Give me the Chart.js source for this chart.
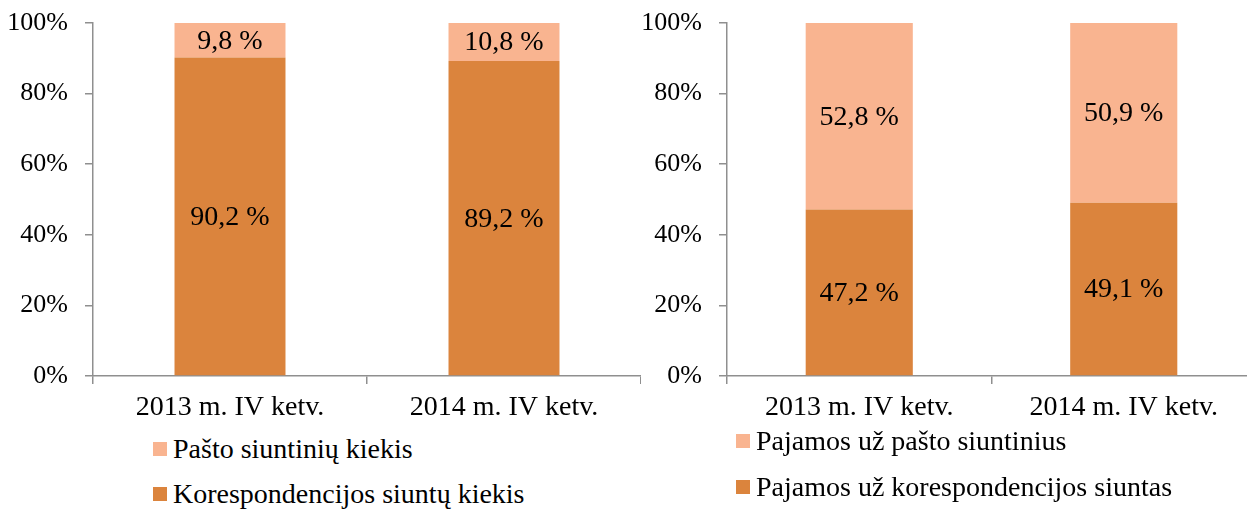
<!DOCTYPE html>
<html lang="lt">
<head>
<meta charset="utf-8">
<title>Pašto siuntos</title>
<script src="https://cdn.jsdelivr.net/npm/chart.js@4"></script>
<style>
  html, body { margin: 0; padding: 0; background: #fff; overflow: hidden; }
  body { width: 1247px; height: 509px; position: relative; }
  canvas { position: absolute; top: 0; }
  #leftChart  { left: 0; }
  #rightChart { left: 634px; }
  .legend { position: absolute; font-family: 'Liberation Serif', 'Times New Roman', serif; font-size: 28px; color: #000; }
  .legend__item { position: absolute; white-space: nowrap; height: 32px; line-height: 32px; }
  .legend__swatch { position: absolute; left: 0; top: 9px; width: 14px; height: 14px; }
  .legend__text { position: absolute; }
</style>
</head>
<body>
<canvas id="leftChart" width="641" height="430"></canvas>
<canvas id="rightChart" width="622" height="430"></canvas>
<div class="legend" id="leftLegend"></div>
<div class="legend" id="rightLegend"></div>

<script>
/* ------------------------------------------------------------------
   DATA
   ------------------------------------------------------------------ */
var categories = ['2013 m. IV ketv.', '2014 m. IV ketv.'];
var yTicks     = [0, 20, 40, 60, 80, 100];

// left chart — quantities
var kiekisLabels          = ['Korespondencijos siuntų kiekis', 'Pašto siuntinių kiekis'];
var korespondencijaKiekis = [90.2, 89.2];
var siuntiniaiKiekis      = [9.8, 10.8];

// right chart — revenue
var pajamosLabels          = ['Pajamos už korespondencijos siuntas', 'Pajamos už pašto siuntinius'];
var pajamosKorespondencija = [47.2, 49.1];
var pajamosSiuntiniai      = [52.8, 50.9];

/* ------------------------------------------------------------------
   STYLE
   ------------------------------------------------------------------ */
var COLORS = {
  dark:  '#DB843D',
  light: '#F9B490',
  axis:  '#8f8f8f',
  text:  '#000',
};
var FONT = "'Liberation Serif', 'Times New Roman', serif";

Chart.defaults.font.family = FONT;
Chart.defaults.color = COLORS.text;

/* ------------------------------------------------------------------
   Value labels centred in each stacked segment
   ------------------------------------------------------------------ */
var segmentLabels = {
  id: 'segmentLabels',
  afterDatasetsDraw: function (chart) {
    var ctx = chart.ctx;
    ctx.save();
    ctx.font = '28px ' + FONT;
    ctx.fillStyle = COLORS.text;
    ctx.textAlign = 'center';
    ctx.textBaseline = 'middle';
    chart.data.datasets.forEach(function (ds, i) {
      chart.getDatasetMeta(i).data.forEach(function (bar, j) {
        var p = bar.getCenterPoint();
        ctx.fillText(ds.data[j].toFixed(1).replace('.', ',') + ' %', p.x, p.y + 1);
      });
    });
    ctx.restore();
  },
};

/* ------------------------------------------------------------------
   Build one stacked 100% chart
   ------------------------------------------------------------------ */
function makeChart(canvasId, bottomData, topData, labels) {
  var canvas = document.getElementById(canvasId);
  var H = canvas.height;

  return new Chart(canvas, {
    type: 'bar',
    data: {
      labels: categories,
      datasets: [
        { label: labels[0], data: bottomData, backgroundColor: COLORS.dark,  borderWidth: 0 },
        { label: labels[1], data: topData,    backgroundColor: COLORS.light, borderWidth: 0 },
      ],
    },
    options: {
      responsive: false,
      animation: false,
      devicePixelRatio: 1,
      categoryPercentage: 1,
      barPercentage: 0.405,
      layout: { padding: { top: 23, right: 0, bottom: 0, left: 0 } },
      plugins: {
        legend: { display: false },
        tooltip: { enabled: false },
      },
      scales: {
        x: {
          stacked: true,
          grid: { drawOnChartArea: false, tickLength: 8, color: COLORS.axis, lineWidth: 1.5, offset: true },
          border: { color: COLORS.axis, width: 1.5 },
          ticks: { font: { family: FONT, size: 28 }, padding: 7, color: COLORS.text, maxRotation: 0 },
          afterFit: function (scale) {
            scale.height = H - 376;
            scale.paddingLeft = 0;
            scale.paddingRight = 0;
          },
        },
        y: {
          stacked: true,
          min: 0,
          max: 100,
          afterBuildTicks: function (scale) {
            scale.ticks = yTicks.map(function (v) { return { value: v }; });
          },
          grid: { drawOnChartArea: false, tickLength: 8, color: COLORS.axis, lineWidth: 1.5 },
          border: { color: COLORS.axis, width: 1.5 },
          ticks: {
            font: { family: FONT, size: 26 },
            padding: 17,
            color: COLORS.text,
            callback: function (v) { return v + '%'; },
          },
          // fixed axis width; drop the label overhang so the plot top sits at the padding
          afterFit: function (scale) {
            scale.width = 93;
            scale.paddingTop = 0;
            scale.paddingBottom = 0;
          },
        },
      },
    },
    plugins: [segmentLabels],
  });
}

/* ------------------------------------------------------------------
   HTML legend — top series first, like the original
   ------------------------------------------------------------------ */
function buildLegend(containerId, left, rows, labels) {
  var container = document.getElementById(containerId);
  var colors = [COLORS.dark, COLORS.light];
  [1, 0].forEach(function (i, r) {
    var item = document.createElement('div');
    item.className = 'legend__item';
    item.style.left = left + 'px';
    item.style.top = (rows[r] - 16) + 'px';

    var swatch = document.createElement('span');
    swatch.className = 'legend__swatch';
    swatch.style.background = colors[i];

    var text = document.createElement('span');
    text.className = 'legend__text';
    text.style.left = '20px';
    text.textContent = labels[i];

    item.appendChild(swatch);
    item.appendChild(text);
    container.appendChild(item);
  });
}

function initCharts() {
  makeChart('leftChart',  korespondencijaKiekis,  siuntiniaiKiekis,  kiekisLabels);
  makeChart('rightChart', pajamosKorespondencija, pajamosSiuntiniai, pajamosLabels);
}

buildLegend('leftLegend',  153, [449, 494], kiekisLabels);
buildLegend('rightLegend', 736, [441, 487], pajamosLabels);

// make sure the serif face is ready before the canvas draws text
if (document.fonts && document.fonts.load) {
  document.fonts.load("28px 'Liberation Serif'").then(initCharts, initCharts);
} else {
  initCharts();
}
</script>
</body>
</html>
